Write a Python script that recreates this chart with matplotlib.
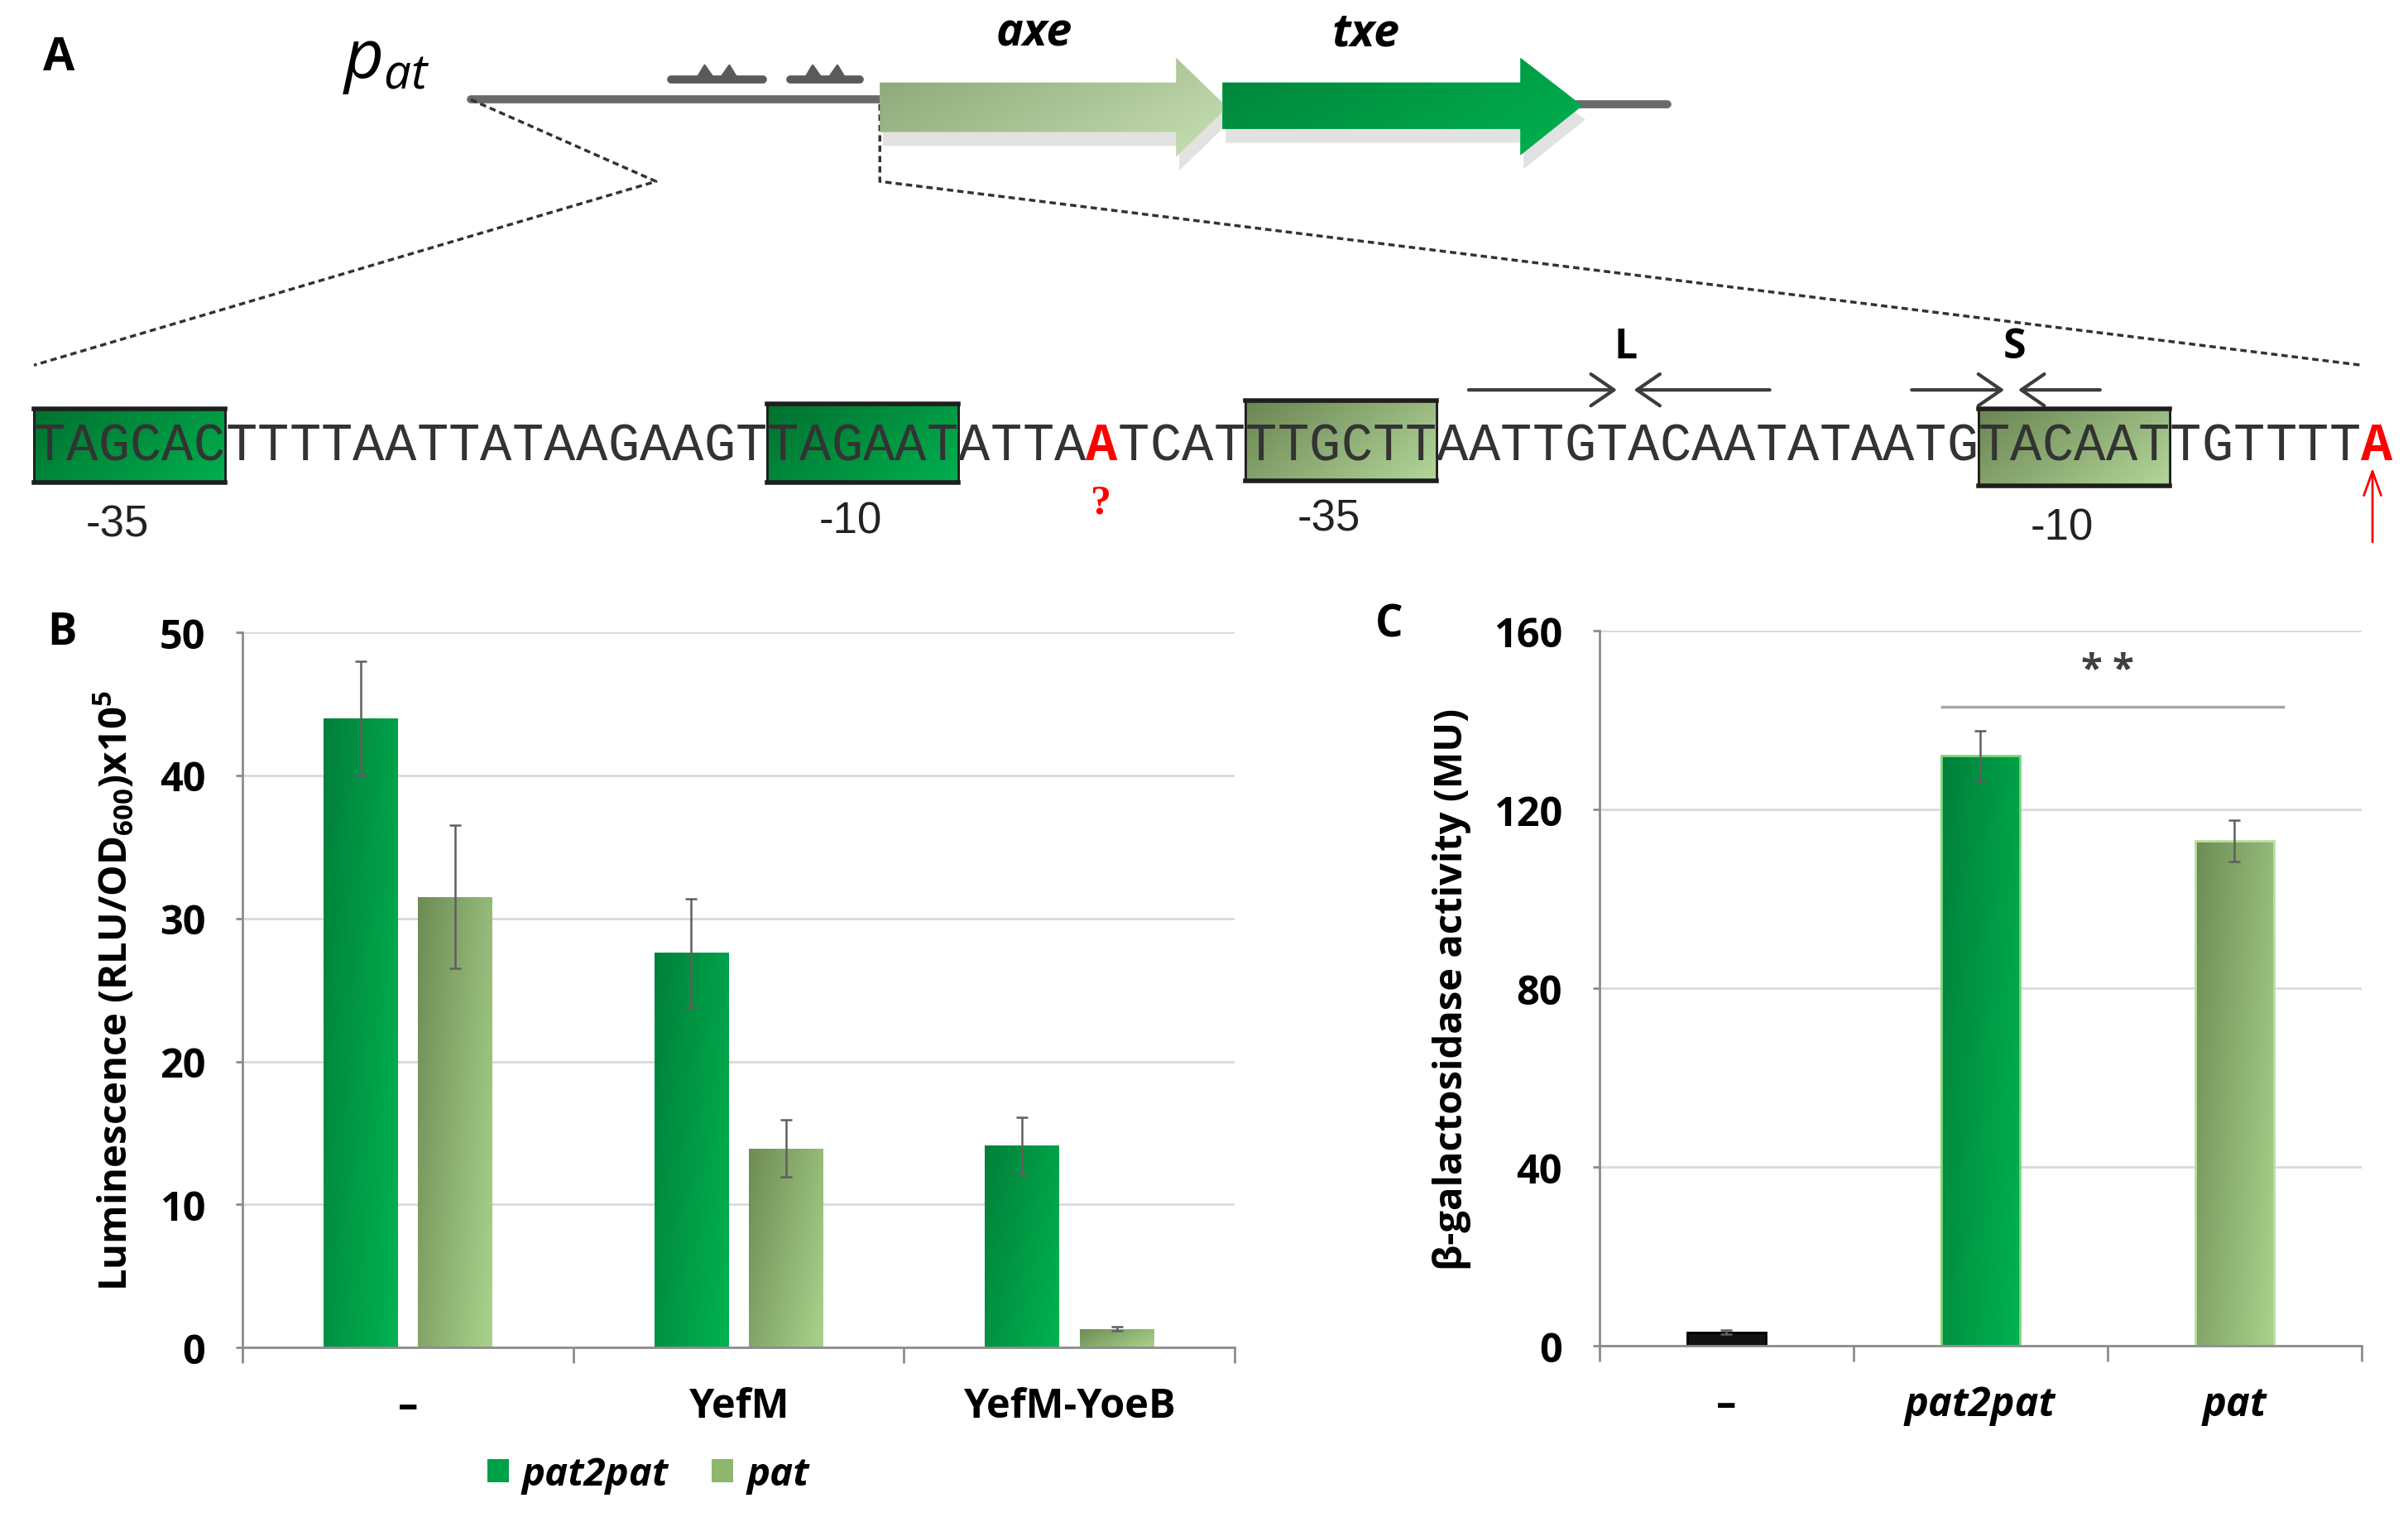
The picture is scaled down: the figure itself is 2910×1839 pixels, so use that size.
import numpy as np
import matplotlib
matplotlib.use('Agg')
import matplotlib.pyplot as plt
from matplotlib.colors import LinearSegmentedColormap
from matplotlib.patches import Polygon, Rectangle, Patch

plt.rcParams['font.family'] = ['Open Sans', 'DejaVu Sans']
plt.rcParams['mathtext.fontset'] = 'custom'
plt.rcParams['mathtext.rm'] = 'Open Sans:bold'
plt.rcParams['mathtext.bf'] = 'Open Sans:bold'
plt.rcParams['mathtext.it'] = 'Open Sans:italic'

# ---- data ----
promoter_seq = "TAGCACTTTTAATTATAAGAAGTTAGAATATTAATCATTTGCTTAATTGTACAATATAATGTACAATTGTTTTA"
box_start = [0, 23, 38, 61]
box_len = [6, 6, 6, 6]
box_kind = ['dark', 'dark', 'light', 'light']
box_label = ['-35', '-10', '-35', '-10']
red_idx = [33, 73]

groups_b = ['–', 'YefM', 'YefM-YoeB']
pat2pat_lum = [44.0, 27.6, 14.1]
pat2pat_lum_err = [4.0, 3.8, 2.0]
pat_lum = [31.5, 13.9, 1.3]
pat_lum_err = [5.0, 2.0, 0.15]

groups_c = ['–', 'pat2pat', 'pat']
bgal = [3.1, 132.0, 113.0]
bgal_err = [0.5, 5.7, 4.7]

DARK = ('#00702f', '#00b04f')
LIGHT = ('#6a8552', '#b3d69a')
PAT2PAT = ('#00803a', '#00b350')
PAT = ('#6e8c55', '#a9d38c')


def grad_fill(ax, patch, colors, x0, x1, yb, yt, z):
    n = 100
    gx, gy = np.meshgrid(np.linspace(0, 1, n), np.linspace(0, 1, n))
    t = 0.65 * gx + 0.35 * (1 - gy)
    cmap = LinearSegmentedColormap.from_list('g', list(colors))
    im = ax.imshow(t, cmap=cmap, extent=(x0, x1, yb, yt), origin='lower',
                   aspect='auto', interpolation='bilinear', zorder=z)
    im.set_clip_path(patch)
    return im


fig = plt.figure(figsize=(29.1, 18.4), dpi=100)
W, H = 1560, 986


def fx(x):
    return x / W


def fy(y):
    return 1 - y / H


# ---- panel A (diagram) ----
ax0 = fig.add_axes([0, 0, 1, 1])
ax0.axis('off')

ax0.text(38, 38, 'A', fontsize=40, fontweight='bold', ha='center', va='center')
ax0.text(222, 40, r'$p_{at}$', fontsize=60, ha='left', va='center')

ax0.plot([305, 572], [65, 65], color='#6a6a6a', lw=7, solid_capstyle='round', zorder=1)
ax0.plot([1010, 1080], [68, 68], color='#6a6a6a', lw=7, solid_capstyle='round', zorder=1)

# inverted repeats in the promoter
for a, b in [(435, 494), (512, 557)]:
    m = (a + b) / 2
    ax0.plot([a, b], [52, 52], color='#5a5a5a', lw=7, solid_capstyle='round', zorder=1)
    for sgn in (-1, 1):
        ax0.add_patch(Polygon([(m + sgn * 14, 53), (m + sgn * 8, 43), (m + sgn * 1, 53)],
                              closed=True, facecolor='#5a5a5a', edgecolor='#5a5a5a',
                              lw=2, joinstyle='round', zorder=1))

axe_pts = [(570, 54), (762, 54), (762, 38), (795, 70), (762, 102), (762, 86), (570, 86)]
txe_pts = [(792, 54), (985, 54), (985, 38), (1025, 69), (985, 101), (985, 84), (792, 84)]
for pts, cols in [(axe_pts, ('#8aa575', '#c8e0b4')), (txe_pts, ('#00833a', '#00b24f'))]:
    sh = Polygon([(x + 2, y + 9) for x, y in pts], closed=True, facecolor='#a0a0a0',
                 edgecolor='none', alpha=0.3, zorder=1.5)
    ax0.add_patch(sh)
    poly = Polygon(pts, closed=True, facecolor=cols[1], edgecolor='none', zorder=2)
    ax0.add_patch(poly)
    xs = [p[0] for p in pts]
    ys = [p[1] for p in pts]
    grad_fill(ax0, poly, cols, min(xs), max(xs), max(ys), min(ys), 2.1)
ax0.text(670, 22, 'axe', fontsize=40, fontweight='bold', style='italic', ha='center', va='center')
ax0.text(885, 22, 'txe', fontsize=40, fontweight='bold', style='italic', ha='center', va='center')

dash = (0, (2.2, 1.4))
ax0.plot([305, 425, 22], [65, 118, 237], color='#333333', lw=2.5, ls=dash)
ax0.plot([570, 570, 1530], [68, 118, 237], color='#333333', lw=2.5, ls=dash)

# sequence
x0, cw, yseq = 22, 20.65, 289
box_top = [265, 262, 260, 265]
box_bot = [313, 313, 312, 315]
lab_y = [340, 338, 336, 342]
for k in range(len(box_start)):
    bx0 = x0 + box_start[k] * cw
    bx1 = bx0 + box_len[k] * cw
    cols = DARK if box_kind[k] == 'dark' else LIGHT
    r = Rectangle((bx0, box_top[k]), bx1 - bx0, box_bot[k] - box_top[k],
                  facecolor=cols[1], edgecolor='#1e1e1e', lw=2, zorder=3)
    ax0.add_patch(r)
    grad_fill(ax0, r, cols, bx0, bx1, box_bot[k], box_top[k], 3.1)
    ax0.add_patch(Rectangle((bx0, box_top[k]), bx1 - bx0, box_bot[k] - box_top[k],
                            fill=False, edgecolor='#1e1e1e', lw=2, zorder=3.2))
    ax0.plot([bx0, bx1], [box_top[k], box_top[k]], color='#1e1e1e', lw=4, zorder=3.3)
    ax0.plot([bx0, bx1], [box_bot[k], box_bot[k]], color='#1e1e1e', lw=4, zorder=3.3)
    ax0.text((bx0 + bx1) / 2 - 8, lab_y[k], box_label[k], fontsize=38, color='#222222',
             family=['Liberation Sans Narrow', 'Liberation Sans'], ha='center', va='center')

for i, ch in enumerate(promoter_seq):
    red = i in red_idx
    ax0.text(x0 + (i + 0.5) * cw, yseq, ch, fontsize=46, family='Liberation Mono',
             color='#ff0000' if red else '#333333', fontweight='bold' if red else 'normal',
             ha='center', va='center', zorder=4)

ax0.text(713, 326, '?', fontsize=36, color='#ff0000', fontweight='bold',
         family='Liberation Serif', ha='center', va='center')
ax0.annotate('', xy=(1537, 302), xytext=(1537, 353),
             arrowprops=dict(arrowstyle='->,head_length=0.7,head_width=0.25',
                             color='#ff0000', lw=2, mutation_scale=30))

for lab, lx, segs in [('L', 1053, [(950, 1049), (1148, 1057)]),
                      ('S', 1305, [(1237, 1300), (1362, 1306)])]:
    ax0.text(lx, 225, lab, fontsize=36, fontweight='bold', ha='center', va='center')
    for s, e in segs:
        ax0.annotate('', xy=(e, 253), xytext=(s, 253),
                     arrowprops=dict(arrowstyle='->,head_length=0.8,head_width=0.55',
                                     color='#3c3c3c', lw=3, mutation_scale=25))

ax0.set_xlim(0, W)
ax0.set_ylim(H, 0)

ax0.text(40, 410, 'B', fontsize=38, fontweight='bold', ha='center', va='center')
ax0.text(900, 405, 'C', fontsize=38, fontweight='bold', ha='center', va='center')


def style_axes(ax, ymax, yticks, groups):
    for s in ['top', 'right']:
        ax.spines[s].set_visible(False)
    for s in ['left', 'bottom']:
        ax.spines[s].set_color('#8c8c8c')
        ax.spines[s].set_linewidth(2)
    ax.set_axisbelow(True)
    ax.yaxis.grid(True, color='#d9d9d9', lw=2)
    ax.set_yticks(yticks)
    ax.set_yticklabels([str(v) for v in yticks], fontsize=35, fontweight='bold')
    ax.tick_params(axis='y', length=6, width=2, color='#8c8c8c', pad=26)
    ax.set_xticks([-0.5, 0.5, 1.5, 2.5])
    ax.set_xticklabels([])
    ax.tick_params(axis='x', which='major', length=14, width=2, color='#8c8c8c')
    ax.set_xticks(range(len(groups)), minor=True)
    ax.set_xticklabels(groups, minor=True, fontsize=35, fontweight='bold')
    ax.tick_params(axis='x', which='minor', length=0, pad=34)
    ax.set_xlim(-0.5, 2.5)
    ax.set_ylim(0, ymax)


# ---- panel B ----
axb = fig.add_axes([fx(157), fy(873), fx(800) - fx(157), fy(410) - fy(873)])
xb = np.arange(len(groups_b))
bw, off = 0.224, 0.143
for vals, errs, cols, sh in [(pat2pat_lum, pat2pat_lum_err, PAT2PAT, -off),
                             (pat_lum, pat_lum_err, PAT, off)]:
    bars = axb.bar(xb + sh, vals, bw, color=cols[1], zorder=2)
    for p in bars:
        grad_fill(axb, p, cols, p.get_x(), p.get_x() + p.get_width(), 0, p.get_height(), 2.1)
    axb.errorbar(xb + sh, vals, yerr=errs, fmt='none', ecolor='#5f5f5f', elinewidth=1.8,
                 capsize=5, capthick=1.8, zorder=3)
style_axes(axb, 50, [0, 10, 20, 30, 40, 50], groups_b)
axb.set_ylabel(r'Luminescence (RLU/OD$_{\mathbf{600}}$)x10$^{\mathbf{5}}$',
               fontsize=34, fontweight='bold')
axb.yaxis.set_label_coords(-0.107, 0.5)

fig.legend([Patch(facecolor='#00a047'), Patch(facecolor='#8db66e')], ['pat2pat', 'pat'],
           loc='center', bbox_to_anchor=(fx(420), fy(955)), ncol=2, frameon=False,
           prop=dict(family='Open Sans', weight='bold', style='italic', size=34),
           handlelength=0.55, handleheight=0.55, handletextpad=0.35, columnspacing=1.1)

# ---- panel C ----
axc = fig.add_axes([fx(1036), fy(872), fx(1530) - fx(1036), fy(409) - fy(872)])
xc = np.arange(len(groups_c))
bars_c = axc.bar(xc, bgal, 0.31, color=['#111111', PAT2PAT[1], PAT[1]], zorder=2)
for p, cols in zip(bars_c[1:], [PAT2PAT, PAT]):
    grad_fill(axc, p, cols, p.get_x(), p.get_x() + p.get_width(), 0, p.get_height(), 2.1)
axc.bar(xc, bgal, 0.31, fill=False, edgecolor=['#000000', '#7fd67a', '#b8e0a0'], lw=2, zorder=2.2)
axc.errorbar(xc, bgal, yerr=bgal_err, fmt='none', ecolor='#5f5f5f', elinewidth=1.8,
             capsize=5, capthick=1.8, zorder=3)
style_axes(axc, 160, [0, 40, 80, 120, 160], groups_c)
for lbl in axc.get_xticklabels(minor=True)[1:]:
    lbl.set_style('italic')
axc.set_ylabel('β-galactosidase activity (MU)', fontsize=34, fontweight='bold')
axc.yaxis.set_label_coords(-0.168, 0.5)
axc.plot([0.85, 2.19], [143, 143], color='#a6a6a6', lw=2.5, zorder=3)
axc.text(1.5, 151, '* *', fontsize=34, fontweight='bold', color='#404040', ha='center', va='center')
axc.set_xlim(-0.5, 2.5)
axc.set_ylim(0, 160)
axb.set_xlim(-0.5, 2.5)
axb.set_ylim(0, 50)

fig.savefig('out.png', dpi=100, facecolor='white')
